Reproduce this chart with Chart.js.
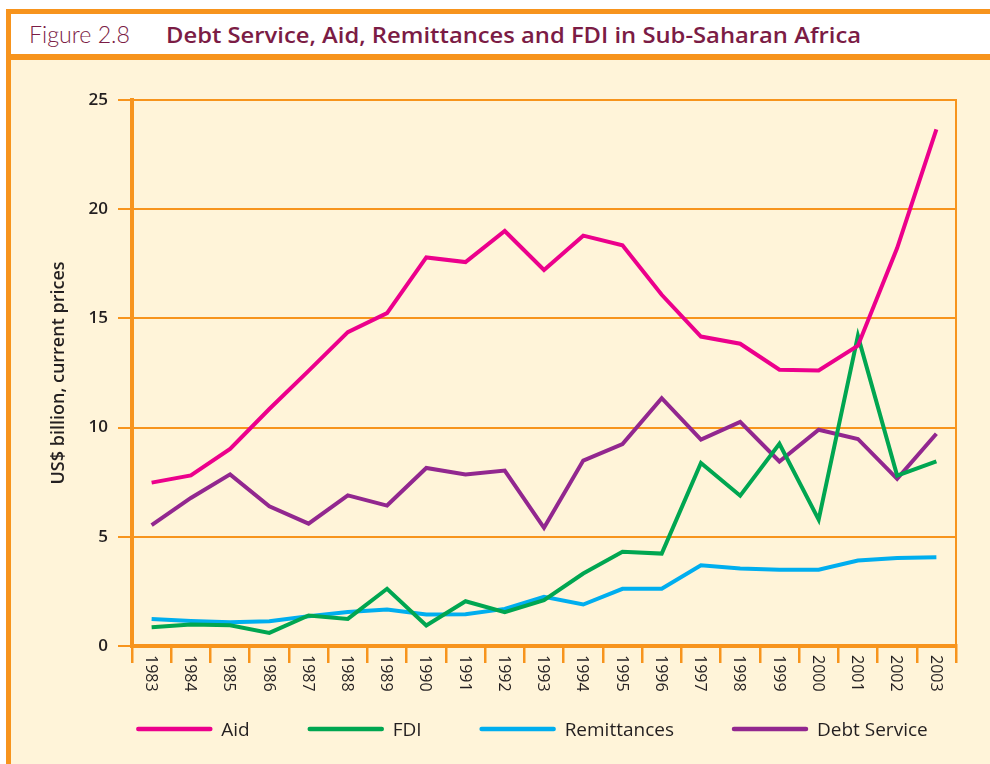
<!DOCTYPE html>
<html>
<head>
<meta charset="utf-8">
<script src="https://cdn.jsdelivr.net/npm/chart.js@4.4.1/dist/chart.umd.min.js"></script>
<style>
body { margin: 0; width: 990px; height: 764px; background: #fff; position: relative; overflow: hidden; }
#topbar { position: absolute; left: 6px; top: 9px; width: 984px; height: 5px; background: #f7941d; }
#leftbar { position: absolute; left: 6px; top: 9px; width: 5px; height: 755px; background: #f7941d; }
#band { position: absolute; left: 11px; top: 54px; width: 979px; height: 6px; background: #f7941d; }
#panel { position: absolute; left: 11px; top: 60px; width: 979px; height: 704px; background: #fff4d9; }
#fig { position: absolute; left: 29px; top: 22px; font: 300 24px/24px Lato, sans-serif; color: #7b1c45; white-space: nowrap; transform-origin: 0 0; }
#ttl { position: absolute; left: 166px; top: 23px; font: 600 22px/22px "Open Sans", sans-serif; color: #7b1c45; white-space: nowrap; transform-origin: 0 0; }
</style>
</head>
<body>
<div id="topbar"></div>
<div id="leftbar"></div>
<span id="fig">Figure 2.8</span>
<span id="ttl">Debt Service, Aid, Remittances and FDI in Sub-Saharan Africa</span>
<div id="band"></div>
<div id="panel"><canvas id="c" width="979" height="704"></canvas></div>
<script>
// values, US$ billion
const years = ['1983', '1984', '1985', '1986', '1987', '1988', '1989', '1990', '1991', '1992', '1993',
  '1994', '1995', '1996', '1997', '1998', '1999', '2000', '2001', '2002', '2003'];
const aid = [7.48, 7.81, 9.02, 10.85, 12.6, 14.37, 15.24, 17.79, 17.58, 19.0, 17.22,
  18.79, 18.35, 16.08, 14.17, 13.84, 12.65, 12.62, 13.75, 18.22, 23.66];
const fdi = [0.86, 0.98, 0.95, 0.60, 1.40, 1.24, 2.62, 0.94, 2.05, 1.55, 2.10,
  3.32, 4.31, 4.23, 8.38, 6.88, 9.26, 5.79, 14.2, 7.8, 8.45];
const remittances = [1.24, 1.15, 1.09, 1.13, 1.36, 1.56, 1.67, 1.44, 1.45, 1.70, 2.25,
  1.90, 2.62, 2.62, 3.70, 3.55, 3.49, 3.49, 3.91, 4.03, 4.06];
const debtService = [5.53, 6.78, 7.86, 6.40, 5.60, 6.90, 6.43, 8.15, 7.85, 8.03, 5.41,
  8.49, 9.25, 11.35, 9.45, 10.26, 8.45, 9.9, 9.48, 7.65, 9.72];
const yTicks = [0, 5, 10, 15, 20, 25];

// squeeze the title spans to the widths in the figure
function fitWidth(id, w) {
  var el = document.getElementById(id);
  el.style.transform = 'scaleX(' + (w / el.getBoundingClientRect().width) + ')';
}
fitWidth('fig', 101);
fitWidth('ttl', 695);

var orange = '#f7941d';
var ink = '#231f20';

// rotated year labels + line legend under the plot
var extras = {
  id: 'extras',
  afterDraw: function(chart) {
    var ctx = chart.ctx, xs = chart.scales.x, area = chart.chartArea;
    ctx.save();
    ctx.fillStyle = ink;
    ctx.font = '16px "Open Sans"';
    ctx.textAlign = 'left';
    ctx.textBaseline = 'alphabetic';
    years.forEach(function(lab, i) {
      ctx.save();
      ctx.translate(xs.getPixelForValue(i), area.bottom + 9);
      ctx.rotate(Math.PI / 2);
      ctx.fillText(lab, 0, 5.8);
      ctx.restore();
    });

    ctx.font = '500 19px "Open Sans"';
    var items = chart.data.datasets.map(function(d) {
      return { text: d.label, color: d.borderColor, w: 85 + ctx.measureText(d.label).width };
    });
    var gap = 58;
    var total = items.reduce(function(s, it) { return s + it.w; }, 0) + gap * (items.length - 1);
    var x = (area.left + area.right) / 2 - 12 - total / 2;
    var y = area.bottom + 83;
    items.forEach(function(it) {
      ctx.strokeStyle = it.color;
      ctx.lineWidth = 4.5;
      ctx.lineCap = 'round';
      ctx.beginPath();
      ctx.moveTo(x + 2, y);
      ctx.lineTo(x + 74, y);
      ctx.stroke();
      ctx.fillText(it.text, x + 85, y + 7);
      x += it.w + gap;
    });
    ctx.restore();
  }
};

new Chart(document.getElementById('c'), {
  type: 'line',
  data: {
    labels: years,
    datasets: [
      { label: 'Aid', data: aid, borderColor: '#ec008c', backgroundColor: '#ec008c' },
      { label: 'FDI', data: fdi, borderColor: '#00a651', backgroundColor: '#00a651' },
      { label: 'Remittances', data: remittances, borderColor: '#00aeef', backgroundColor: '#00aeef' },
      { label: 'Debt Service', data: debtService, borderColor: '#92278f', backgroundColor: '#92278f' }
    ]
  },
  options: {
    responsive: false,
    animation: false,
    layout: { padding: { left: 37, right: 34, top: 40, bottom: 0 } },
    elements: {
      line: { borderWidth: 4, tension: 0 },
      point: { radius: 0 }
    },
    plugins: {
      legend: { display: false },
      tooltip: { enabled: false }
    },
    scales: {
      x: {
        offset: true,
        grid: { offset: true, drawOnChartArea: false, color: orange, lineWidth: 2.5, tickLength: 17 },
        border: { color: orange, width: 4 },
        ticks: { display: false },
        afterFit: function(s) { s.height = 118; }
      },
      y: {
        min: 0,
        max: 25,
        afterBuildTicks: function(s) { s.ticks = yTicks.map(function(v) { return { value: v }; }); },
        ticks: { color: ink, padding: 10, font: { family: 'Open Sans', size: 17, weight: '600' } },
        grid: { color: orange, lineWidth: 2, tickLength: 14 },
        border: { color: orange, width: 4 },
        title: {
          display: true,
          text: 'US$ billion, current prices',
          color: ink,
          padding: 0,
          font: { family: 'Open Sans', size: 18, weight: '600' }
        },
        afterFit: function(s) { s.width = 84; }
      },
      yr: {
        position: 'right',
        min: 0,
        max: 25,
        grid: { display: false },
        ticks: { display: false },
        border: { color: orange, width: 2 },
        afterFit: function(s) { s.width = 0; }
      }
    }
  },
  plugins: [extras]
});
</script>
</body>
</html>
